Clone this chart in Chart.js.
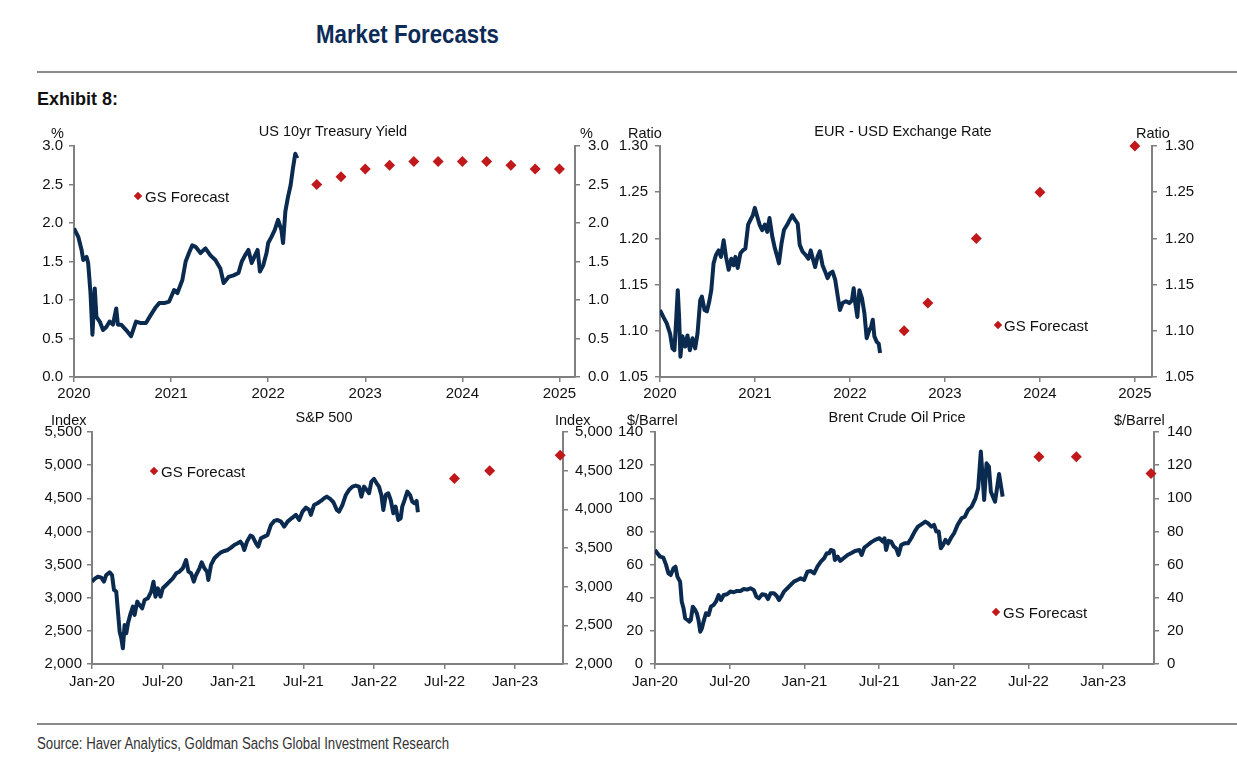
<!DOCTYPE html>
<html><head><meta charset="utf-8">
<script src="https://cdn.jsdelivr.net/npm/chart.js@4.4.1/dist/chart.umd.min.js"></script>
<style>
html,body{margin:0;padding:0;background:#fff;}
body{width:1237px;height:770px;position:relative;overflow:hidden;font-family:"Liberation Sans",Arial,sans-serif;color:#111;}
.abs{position:absolute;white-space:nowrap;line-height:1;}
canvas{position:absolute;}
.title{font-size:14.5px;transform:translate(-50%,-50%);}
.unit{font-size:14.5px;transform:translateY(-50%);}
.leg{font-size:15px;transform:translateY(-50%);}
.dia{position:absolute;width:6px;height:6px;background:#c0181b;transform:rotate(45deg);}
.rule{position:absolute;left:37px;width:1200px;height:2px;background:#8a8a8a;}
.fit{transform-origin:0 50%;}
</style></head>
<body>
<div class="abs fit" data-w="183" style="left:316px;top:22px;font-size:25px;font-weight:bold;color:#0c2b57;">Market Forecasts</div>
<div class="rule" style="top:71px;"></div>
<div class="abs fit" data-w="81" style="left:37px;top:89px;font-size:19px;font-weight:bold;color:#111;">Exhibit 8:</div>
<div class="rule" style="top:723px;"></div>
<div class="abs fit" data-w="412" style="left:37px;top:736px;font-size:16px;color:#333;">Source: Haver Analytics, Goldman Sachs Global Investment Research</div>

<canvas id="c1" width="620" height="300" style="left:0px;top:110px;width:620px;height:300px;"></canvas>
<canvas id="c2" width="617" height="300" style="left:620px;top:110px;width:617px;height:300px;"></canvas>
<canvas id="c3" width="620" height="300" style="left:0px;top:400px;width:620px;height:300px;"></canvas>
<canvas id="c4" width="637" height="300" style="left:600px;top:400px;width:637px;height:300px;"></canvas>

<div class="abs title" style="left:333px;top:131px;">US 10yr Treasury Yield</div>
<div class="abs unit" style="left:51px;top:133px;">%</div>
<div class="abs unit" style="left:580px;top:133px;">%</div>
<div class="dia" style="left:135px;top:193px;"></div>
<div class="abs leg" style="left:145px;top:196px;">GS Forecast</div>

<div class="abs title" style="left:903px;top:131px;">EUR - USD Exchange Rate</div>
<div class="abs unit" style="left:628px;top:133px;">Ratio</div>
<div class="abs unit" style="left:1136px;top:133px;">Ratio</div>
<div class="dia" style="left:995px;top:322px;"></div>
<div class="abs leg" style="left:1004px;top:325px;">GS Forecast</div>

<div class="abs title" style="left:324px;top:417px;">S&amp;P 500</div>
<div class="abs unit" style="left:51px;top:420px;">Index</div>
<div class="abs unit" style="left:555px;top:420px;">Index</div>
<div class="dia" style="left:151px;top:468px;"></div>
<div class="abs leg" style="left:161px;top:471px;">GS Forecast</div>

<div class="abs title" style="left:897px;top:417px;">Brent Crude Oil Price</div>
<div class="abs unit" style="left:627px;top:420px;">$/Barrel</div>
<div class="abs unit" style="left:1114px;top:420px;">$/Barrel</div>
<div class="dia" style="left:993px;top:609px;"></div>
<div class="abs leg" style="left:1003px;top:612px;">GS Forecast</div>

<script>
// ---------- tick labels ----------
const yearTicks = [2020, 2021, 2022, 2023, 2024, 2025];
const yearLabels = ['2020', '2021', '2022', '2023', '2024', '2025'];
const monthTicks = [2020, 2020.5, 2021, 2021.5, 2022, 2022.5, 2023];
const monthLabels = ['Jan-20', 'Jul-20', 'Jan-21', 'Jul-21', 'Jan-22', 'Jul-22', 'Jan-23'];
const ustTicks = [0, 0.5, 1, 1.5, 2, 2.5, 3];
const eurTicks = [1.05, 1.10, 1.15, 1.20, 1.25, 1.30];
const spxLeftTicks = [2000, 2500, 3000, 3500, 4000, 4500, 5000, 5500];
const spxRightTicks = [2000, 2500, 3000, 3500, 4000, 4500, 5000];
const oilTicks = [0, 20, 40, 60, 80, 100, 120, 140];

// ---------- US 10yr Treasury yield (%) ----------
const ustDates = [2020.000,2020.044,2020.078,2020.095,2020.129,2020.146,2020.170,2020.190,2020.214,2020.231,2020.265,2020.299,2020.333,2020.367,2020.401,2020.435,2020.452,2020.486,2020.537,2020.588,2020.639,2020.690,2020.741,2020.793,2020.844,2020.878,2020.929,2020.980,2021.031,2021.065,2021.116,2021.150,2021.184,2021.218,2021.252,2021.303,2021.354,2021.405,2021.456,2021.507,2021.541,2021.592,2021.643,2021.694,2021.728,2021.762,2021.796,2021.830,2021.864,2021.891,2021.915,2021.949,2021.983,2022.000,2022.034,2022.068,2022.102,2022.136,2022.153,2022.177,2022.204,2022.231,2022.255,2022.279,2022.299];
const ustValues = [1.93,1.82,1.65,1.52,1.56,1.48,1.09,0.55,1.15,0.78,0.72,0.61,0.65,0.72,0.68,0.89,0.68,0.68,0.61,0.53,0.72,0.70,0.70,0.81,0.91,0.96,0.96,0.98,1.13,1.09,1.26,1.50,1.61,1.71,1.69,1.61,1.67,1.58,1.52,1.41,1.22,1.30,1.32,1.35,1.50,1.58,1.65,1.48,1.58,1.65,1.37,1.45,1.61,1.74,1.82,1.91,2.04,1.91,1.74,2.15,2.34,2.49,2.71,2.90,2.84];
const ustFcDates = [2022.5, 2022.75, 2023.0, 2023.25, 2023.5, 2023.75, 2024.0, 2024.25, 2024.5, 2024.75, 2025.0];
const ustFcValues = [2.5, 2.6, 2.7, 2.75, 2.8, 2.8, 2.8, 2.8, 2.75, 2.7, 2.7];

// ---------- EUR-USD ----------
const eurDates = [2020.000,2020.035,2020.071,2020.106,2020.131,2020.152,2020.166,2020.187,2020.201,2020.215,2020.236,2020.265,2020.289,2020.314,2020.342,2020.370,2020.395,2020.423,2020.441,2020.469,2020.494,2020.519,2020.540,2020.564,2020.589,2020.617,2020.642,2020.670,2020.695,2020.723,2020.751,2020.776,2020.794,2020.818,2020.847,2020.871,2020.899,2020.928,2020.952,2020.977,2020.998,2021.023,2021.048,2021.076,2021.104,2021.129,2021.153,2021.182,2021.210,2021.235,2021.252,2021.280,2021.305,2021.340,2021.365,2021.393,2021.422,2021.450,2021.471,2021.499,2021.534,2021.563,2021.587,2021.612,2021.633,2021.658,2021.683,2021.711,2021.739,2021.764,2021.788,2021.817,2021.845,2021.869,2021.894,2021.922,2021.958,2021.993,2022.021,2022.039,2022.056,2022.078,2022.099,2022.127,2022.152,2022.176,2022.205,2022.222,2022.240,2022.257,2022.282,2022.303,2022.317];
const eurValues = [1.1225,1.115,1.108,1.097,1.081,1.079,1.104,1.144,1.115,1.072,1.094,1.083,1.095,1.079,1.092,1.081,1.097,1.133,1.137,1.1225,1.121,1.132,1.144,1.173,1.182,1.187,1.180,1.198,1.180,1.166,1.178,1.171,1.180,1.168,1.184,1.187,1.189,1.215,1.220,1.225,1.233,1.224,1.215,1.209,1.215,1.207,1.222,1.202,1.189,1.180,1.173,1.195,1.209,1.215,1.220,1.225,1.220,1.216,1.193,1.186,1.182,1.178,1.187,1.177,1.169,1.180,1.186,1.171,1.164,1.157,1.162,1.164,1.155,1.139,1.1225,1.130,1.132,1.130,1.133,1.146,1.130,1.115,1.144,1.135,1.119,1.092,1.101,1.104,1.112,1.094,1.088,1.086,1.076];
const eurFcDates = [2022.57, 2022.82, 2023.33, 2024.0, 2025.0];
const eurFcValues = [1.10, 1.13, 1.20, 1.25, 1.30];

// ---------- S&P 500 ----------
const spxDates = [2020.000,2020.019,2020.042,2020.066,2020.085,2020.101,2020.125,2020.142,2020.156,2020.172,2020.184,2020.196,2020.208,2020.219,2020.231,2020.243,2020.255,2020.274,2020.290,2020.302,2020.321,2020.337,2020.356,2020.373,2020.396,2020.420,2020.436,2020.450,2020.467,2020.486,2020.502,2020.526,2020.550,2020.573,2020.597,2020.620,2020.644,2020.667,2020.684,2020.703,2020.722,2020.738,2020.762,2020.778,2020.797,2020.816,2020.825,2020.844,2020.868,2020.892,2020.915,2020.939,2020.962,2020.986,2021.009,2021.033,2021.052,2021.068,2021.080,2021.099,2021.123,2021.139,2021.163,2021.179,2021.198,2021.222,2021.245,2021.269,2021.292,2021.316,2021.340,2021.363,2021.387,2021.415,2021.446,2021.469,2021.493,2021.517,2021.540,2021.552,2021.575,2021.599,2021.623,2021.646,2021.665,2021.689,2021.712,2021.736,2021.752,2021.776,2021.800,2021.823,2021.847,2021.870,2021.894,2021.910,2021.929,2021.948,2021.965,2021.981,2022.000,2022.019,2022.035,2022.052,2022.066,2022.083,2022.101,2022.118,2022.137,2022.153,2022.172,2022.189,2022.200,2022.217,2022.236,2022.255,2022.271,2022.288,2022.302,2022.311];
const spxValues = [3242,3283,3318,3303,3242,3343,3383,3343,3117,3092,2790,2488,2387,2236,2588,2463,2614,2765,2865,2740,2941,2890,2840,2966,2991,3092,3242,3016,3142,3016,3142,3192,3242,3293,3368,3393,3444,3569,3393,3368,3242,3343,3444,3534,3444,3393,3268,3494,3595,3645,3685,3705,3720,3756,3796,3821,3846,3796,3720,3846,3937,3922,3821,3771,3897,3922,3947,4098,4158,4173,4148,4072,4148,4198,4249,4173,4299,4359,4324,4249,4399,4425,4460,4500,4525,4490,4440,4324,4299,4399,4550,4626,4676,4691,4676,4525,4676,4626,4576,4752,4792,4726,4676,4550,4324,4550,4576,4475,4274,4374,4173,4198,4374,4475,4601,4550,4450,4425,4460,4289];
const spxFcDates = [2022.57, 2022.82, 2023.32];
const spxFcValues = [4400, 4500, 4700]; // read on the right-hand axis

// ---------- Brent crude ($/bbl) ----------
const oilDates = [2020.000,2020.016,2020.034,2020.056,2020.074,2020.090,2020.105,2020.123,2020.137,2020.150,2020.168,2020.179,2020.191,2020.202,2020.217,2020.231,2020.240,2020.253,2020.269,2020.280,2020.291,2020.303,2020.314,2020.325,2020.341,2020.359,2020.374,2020.392,2020.408,2020.426,2020.442,2020.460,2020.482,2020.504,2020.527,2020.549,2020.572,2020.594,2020.617,2020.639,2020.661,2020.679,2020.695,2020.717,2020.740,2020.756,2020.774,2020.796,2020.814,2020.830,2020.845,2020.863,2020.886,2020.908,2020.930,2020.953,2020.975,2020.998,2021.020,2021.043,2021.065,2021.087,2021.110,2021.132,2021.150,2021.166,2021.177,2021.195,2021.204,2021.222,2021.240,2021.262,2021.289,2021.312,2021.339,2021.368,2021.383,2021.401,2021.424,2021.446,2021.473,2021.502,2021.525,2021.536,2021.547,2021.563,2021.581,2021.599,2021.614,2021.630,2021.648,2021.670,2021.693,2021.715,2021.738,2021.760,2021.783,2021.809,2021.827,2021.850,2021.868,2021.883,2021.899,2021.913,2021.928,2021.944,2021.962,2021.980,2022.002,2022.025,2022.052,2022.074,2022.096,2022.119,2022.145,2022.163,2022.181,2022.192,2022.203,2022.219,2022.235,2022.248,2022.276,2022.303,2022.327];
const oilValues = [68.8,66.8,64.8,64.2,59.8,54.7,53.7,57.7,58.7,52.7,49.7,37.6,33.6,27.6,26.6,25.6,26.6,34.6,32.6,30.6,26.6,19.5,21.5,25.6,30.6,29.6,34.6,35.6,37.6,41.6,38.6,41.6,42.1,43.7,43.3,44.1,44.1,45.3,44.9,45.7,44.7,40.6,39.6,42.1,41.6,39.2,42.7,42.7,41.2,38.6,40.6,43.7,45.7,47.7,49.7,50.7,51.7,50.7,55.7,56.1,54.7,58.7,61.8,63.8,66.8,66.8,68.8,68.2,62.8,64.8,62.2,63.8,65.8,66.8,68.2,68.8,65.8,70.2,71.8,73.4,74.9,75.9,73.8,75.9,68.8,74.3,73.8,70.8,69.8,65.8,71.8,72.8,72.8,75.9,79.9,82.9,84.3,85.9,84.9,82.9,83.9,79.9,79.9,69.8,71.8,74.9,72.8,75.9,78.9,83.9,87.9,88.9,93.0,95.0,100.0,106.0,128.2,114.1,99.0,121.1,119.1,104.0,97.9,114.6,101.0];
const oilFcDates = [2022.57, 2022.82, 2023.32];
const oilFcValues = [125, 125, 115];

// ---------- helpers ----------
const NAVY = '#0b2a50';
const RED = '#c0181b';
const GRAY = '#808080';
Chart.defaults.font.family = '"Liberation Sans", Arial, sans-serif';
Chart.defaults.color = '#111';

// squeeze the condensed header/footer texts to the reference widths
document.querySelectorAll('.fit').forEach(el => {
  const w = el.getBoundingClientRect().width;
  const target = parseFloat(el.dataset.w);
  el.style.transform = 'scaleX(' + (target / w) + ')';
});

function pts(xs, ys) { return xs.map((x, i) => ({ x: x, y: ys[i] })); }

function yAxis(pos, min, max, ticks, fmt, width, pad) {
  return {
    type: 'linear', position: pos, min: min, max: max,
    border: { display: true, color: GRAY, width: 2 },
    grid: { drawOnChartArea: false, drawTicks: true, tickLength: 5, color: GRAY, lineWidth: 1.5 },
    ticks: { color: '#111', font: { size: 15 }, padding: pad, autoSkip: false,
      callback: (v) => fmt(v) },
    afterBuildTicks: (s) => { s.ticks = ticks.map(v => ({ value: v })); },
    afterFit: (s) => { s.width = width; }
  };
}
function xAxis(min, max, ticks, labels, height, pad) {
  return {
    type: 'linear', position: 'bottom', min: min, max: max,
    border: { display: true, color: GRAY, width: 2 },
    grid: { drawOnChartArea: false, drawTicks: true, tickLength: 5, color: GRAY, lineWidth: 1.5 },
    ticks: { color: '#111', font: { size: 15 }, padding: pad, autoSkip: false, maxRotation: 0,
      callback: (v, i) => labels[i] },
    afterBuildTicks: (s) => { s.ticks = ticks.map(v => ({ value: v })); },
    afterFit: (s) => { s.height = height; }
  };
}
function lineDs(xs, ys) {
  return { type: 'line', data: pts(xs, ys), borderColor: NAVY, borderWidth: 4,
    pointRadius: 0, tension: 0, borderJoinStyle: 'round', yAxisID: 'y' };
}
function fcDs(xs, ys, axis) {
  return { type: 'line', data: pts(xs, ys), showLine: false, pointStyle: 'rectRot',
    pointRadius: 5.5, backgroundColor: RED, borderColor: RED, borderWidth: 0,
    clip: false, yAxisID: axis };
}
function make(id, datasets, scales, topPad) {
  return new Chart(document.getElementById(id), {
    type: 'line',
    data: { datasets: datasets },
    options: {
      responsive: false, animation: false, events: [],
      layout: { padding: { top: topPad, left: 0, right: 0, bottom: 0 } },
      plugins: { legend: { display: false }, tooltip: { enabled: false }, title: { display: false } },
      scales: scales
    }
  });
}
const f1 = v => v.toFixed(1);
const f2 = v => v.toFixed(2);
const fk = v => v.toLocaleString('en-US');
const f0 = v => String(v);

make('c1', [lineDs(ustDates, ustValues), fcDs(ustFcDates, ustFcValues, 'y')], {
  x: xAxis(2020, 2025.16, yearTicks, yearLabels, 33, 3),
  y: yAxis('left', 0, 3, ustTicks, f1, 74, 6),
  y1: yAxis('right', 0, 3, ustTicks, f1, 45, 8)
}, 36);

make('c2', [lineDs(eurDates, eurValues), fcDs(eurFcDates, eurFcValues, 'y')], {
  x: xAxis(2020, 2025.18, yearTicks, yearLabels, 33, 3),
  y: yAxis('left', 1.05, 1.30, eurTicks, f2, 40, 7),
  y1: yAxis('right', 1.05, 1.30, eurTicks, f2, 85, 8)
}, 36);

make('c3', [lineDs(spxDates, spxValues), fcDs(spxFcDates, spxFcValues, 'y1')], {
  x: xAxis(2020, 2023.34, monthTicks, monthLabels, 36, 4),
  y: yAxis('left', 2000, 5500, spxLeftTicks, fk, 92, 5),
  y1: yAxis('right', 2000, 5000, spxRightTicks, fk, 57, 7)
}, 32);

make('c4', [lineDs(oilDates, oilValues), fcDs(oilFcDates, oilFcValues, 'y')], {
  x: xAxis(2020, 2023.34, monthTicks, monthLabels, 36, 4),
  y: yAxis('left', 0, 140, oilTicks, f0, 55, 7),
  y1: yAxis('right', 0, 140, oilTicks, f0, 83, 8)
}, 32);
</script>
</body></html>
